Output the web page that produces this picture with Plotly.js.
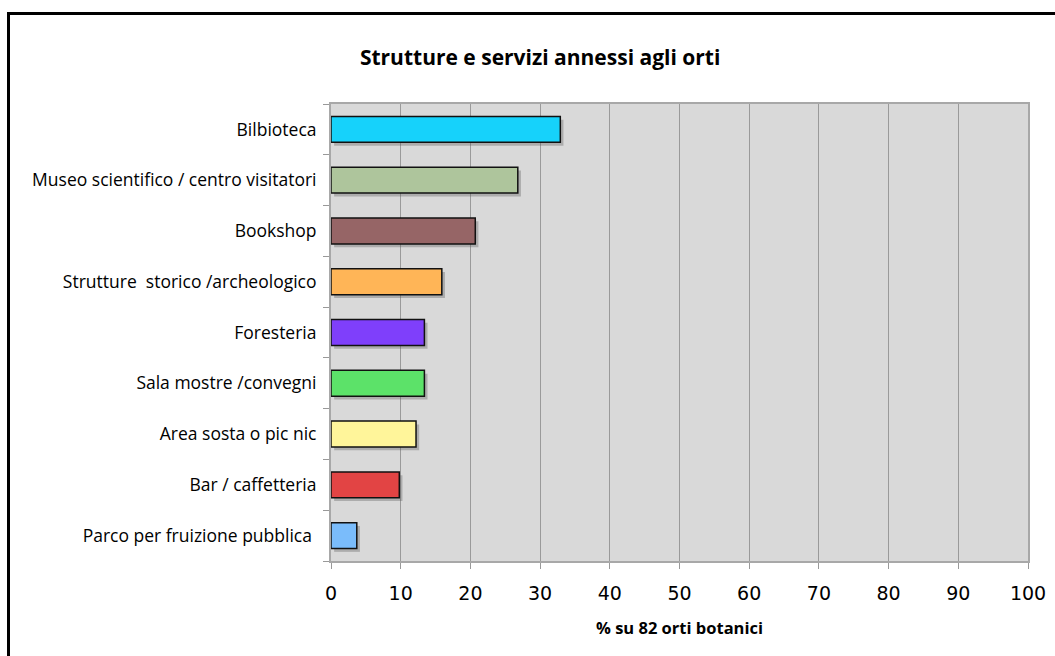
<!DOCTYPE html>
<html>
<head>
<meta charset="utf-8">
<script src="https://cdn.plot.ly/plotly-3.0.1.min.js"></script>
<style>
  html, body { margin: 0; padding: 0; background: #fff; overflow: hidden; }
  #frame { position: absolute; left: 7px; top: 12px; width: 1100px; height: 700px; border: 3px solid #000; box-sizing: border-box; }
  #chart { position: absolute; left: 0; top: 0; width: 1055px; height: 656px; }
</style>
</head>
<body>
<div id="frame"></div>
<div id="chart"></div>
<script>
// Categories listed from top to bottom
const categories = [
  "Bilbioteca",
  "Museo scientifico / centro visitatori",
  "Bookshop",
  "Strutture\u00a0 storico /archeologico",
  "Foresteria",
  "Sala mostre /convegni",
  "Area sosta o pic nic",
  "Bar / caffetteria",
  "Parco per fruizione pubblica\u00a0"
];
// Share of the 82 botanical gardens (%)
const percentages = [32.9, 26.8, 20.7, 15.9, 13.4, 13.4, 12.2, 9.8, 3.7];
const barColors = ["#16d2fb", "#aec59c", "#966566", "#ffb557", "#7f3ffb", "#5ce269", "#fff59a", "#e24444", "#7abcfb"];
const xTicks = [0, 10, 20, 30, 40, 50, 60, 70, 80, 90, 100];

const n = categories.length;
const yPos = categories.map((_, i) => n - 1 - i);

// soft drop shadow drawn a few pixels right/below each bar
const shadowDx = 0.45, shadowDy = 0.065;
const shadow = {
  type: "bar", orientation: "h",
  x: percentages, y: yPos.map(v => v - shadowDy),
  base: percentages.map(() => shadowDx),
  width: 0.51,
  marker: { color: "rgba(90,90,90,0.35)", line: { width: 0 } },
  hoverinfo: "skip", showlegend: false
};
const bars = {
  type: "bar", orientation: "h",
  x: percentages, y: yPos,
  width: 0.51,
  marker: { color: barColors, line: { color: "#111", width: 1.5 } },
  showlegend: false
};

const layout = {
  width: 1055, height: 656,
  paper_bgcolor: "rgba(0,0,0,0)",
  plot_bgcolor: "#d9d9d9",
  margin: { l: 331, r: 27, t: 104, b: 95 },
  barmode: "overlay",
  title: {
    text: "<b>Strutture e servizi annessi agli orti</b>",
    font: { family: "Open Sans", size: 21, color: "#000" },
    x: 0.512, xanchor: "center", y: 0.912, yanchor: "middle"
  },
  xaxis: {
    range: [0, 100],
    tickvals: xTicks,
    ticktext: xTicks.map(String),
    ticks: "outside", ticklen: 6, tickcolor: "#999", tickwidth: 1,
    ticklabelstandoff: 8,
    tickfont: { family: "DejaVu Sans", size: 19, color: "#000" },
    showgrid: true, gridcolor: "#9a9a9a", gridwidth: 1,
    showline: true, linecolor: "#a8a8a8", linewidth: 2, mirror: true,
    zeroline: false,
    title: {
      text: "<b>% su 82 orti botanici</b>",
      font: { family: "Open Sans", size: 16.5, color: "#000" },
      standoff: 20
    }
  },
  yaxis: {
    range: [-0.5, 8.5],
    tickmode: "array",
    tickvals: yPos,
    ticktext: categories,
    ticks: "",
    ticklabelstandoff: 9,
    tickfont: { family: "Open Sans", size: 17.5, color: "#000" },
    showgrid: false,
    showline: true, linecolor: "#a8a8a8", linewidth: 2, mirror: true,
    zeroline: false,
    minor: {
      tickmode: "array",
      tickvals: yPos.concat([-1]).map(v => v + 0.5),
      ticks: "outside", ticklen: 6, tickcolor: "#999", tickwidth: 1,
      showgrid: false
    }
  }
};

Plotly.newPlot("chart", [shadow, bars], layout, { displayModeBar: false, staticPlot: true });
</script>
</body>
</html>
